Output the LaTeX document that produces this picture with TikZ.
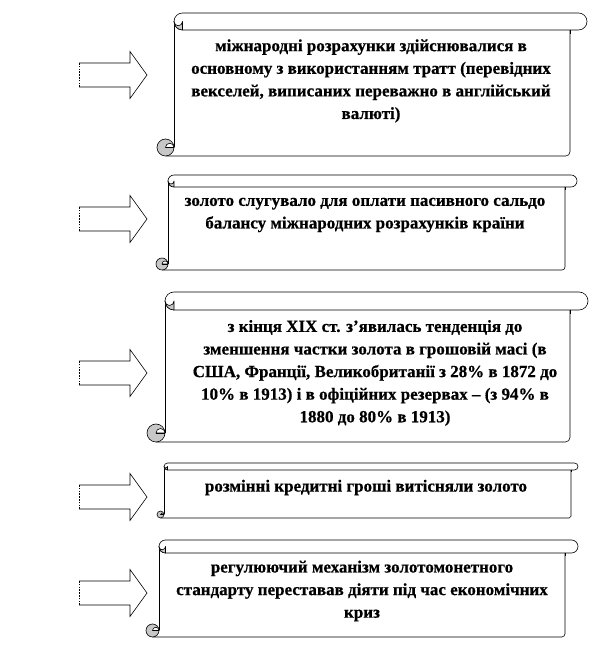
\documentclass[tikz,border=0pt]{standalone}
\usepackage{fontspec}
\setmainfont{Liberation Serif}[BoldFeatures={FakeBold=0.6}]
\begin{document}
\begin{tikzpicture}[x=1pt,y=1pt,
  scr/.style={draw=black,line width=0.6pt,line join=round},
  curl/.style={scr,fill=black!22},
  arrowbox/.style={draw=black,line width=0.6pt,fill=white,line join=miter},
  arrowleft/.style={draw=black,line width=0.6pt,dash pattern=on 1.6pt off 1.2pt},
  scrolltext/.style={align=center,inner sep=0pt,font=\fontsize{17}{22.6}\selectfont\bfseries}]
\useasboundingbox (0,0) rectangle (592,669);
\fill[white] (0,0) rectangle (592,669);
% scroll macro: L, Ttop(ref y), R, B(ref y), a
\newcommand\myscroll[5]{%
  \pgfmathsetmacro\sL{#1}%
  \pgfmathsetmacro\sT{669-#2}%
  \pgfmathsetmacro\sR{#3}%
  \pgfmathsetmacro\sB{669-#4}%
  \pgfmathsetmacro\sa{#5}%
  \pgfmathsetmacro\sh{#5/2}%
  \pgfmathsetmacro\sq{#5/4}%
  \pgfmathsetmacro\xb{#1+#5}%
  \pgfmathsetmacro\xr{#3-#5}%
  % body
  \fill[white] (\xb,\sT-\sa) rectangle (\xr,\sB);
  \draw[scr] (\xb,\sT-\sh) -- (\xb,\sB+\sh);
  \draw[scr] (\sL+\sh,\sB) -- (\xr-\sq,\sB) arc[start angle=270,end angle=360,radius=\sq] -- (\xr,\sT-\sa);
  % bottom curl
  \draw[curl] (\sL+\sh,\sB+\sh) circle[radius=\sh];
  \draw[scr,fill=white] (\sL+\sh,\sB+\sh) arc[start angle=180,end angle=0,radius=\sq] -- cycle;
  \draw[scr] (\sL+\sh,\sB+\sh) -- (\xb,\sB+\sh);
  % top band
  \draw[scr,fill=white] (\xb+\sh,\sT) -- (\sR-\sh,\sT) arc[start angle=90,end angle=-90,radius=\sh] -- (\xb+\sh,\sT-\sa) arc[start angle=270,end angle=90,radius=\sh] -- cycle;
  % top-left curl
  \draw[curl] (\xb+\sh,\sT-\sa) arc[start angle=270,end angle=180,radius=\sh] arc[start angle=180,end angle=360,radius=\sq] -- cycle;
  % top-right curl
  \draw[scr] (\xr,\sT-\sa) -- (\xr,\sT-\sa-\sq);
}
\newcommand\myarrow[1]{%
  \pgfmathsetmacro\ac{669-#1}%
  \draw[arrowbox] (79,\ac+12) -- (130,\ac+12) -- (130,\ac+23.5) -- (147,\ac) -- (130,\ac-23.5) -- (130,\ac-12) -- (79,\ac-12);
  \draw[arrowleft] (79,\ac-12) -- (79,\ac+12);
}
\myscroll{157}{13}{587}{156}{17}
\myscroll{156}{175}{577}{270}{12}
\myscroll{147}{292}{588}{442}{18}
\myscroll{157}{463}{578}{518}{7}
\myscroll{146}{540}{578}{637}{13}
\myarrow{75}
\myarrow{219}
\myarrow{373}
\myarrow{497}
\myarrow{593}
\node[scrolltext] (t1) at (371,669-81) {міжнародні розрахунки здійснювалися в\\основному з використанням тратт (перевідних\\векселей, виписаних переважно в англійський\\валюті)};
\node[scrolltext] (t2) at (365,669-215) {золото слугувало для оплати пасивного сальдо\\балансу міжнародних розрахунків країни};
\node[scrolltext] (t3) at (375,669-373) {з кінця XIX ст. з’явилась тенденція до\\зменшення частки золота в грошовій масі (в\\США, Франції, Великобританії з 28\% в 1872 до\\10\% в 1913) і в офіційних резервах – (з 94\% в\\1880 до 80\% в 1913)};
\node[scrolltext] (t4) at (366,669-487.5) {розмінні кредитні гроші витісняли золото};
\node[scrolltext] (t5) at (362,669-591) {регулюючий механізм золотомонетного\\стандарту переставав діяти під час економічних\\криз};
\end{tikzpicture}
\end{document}
